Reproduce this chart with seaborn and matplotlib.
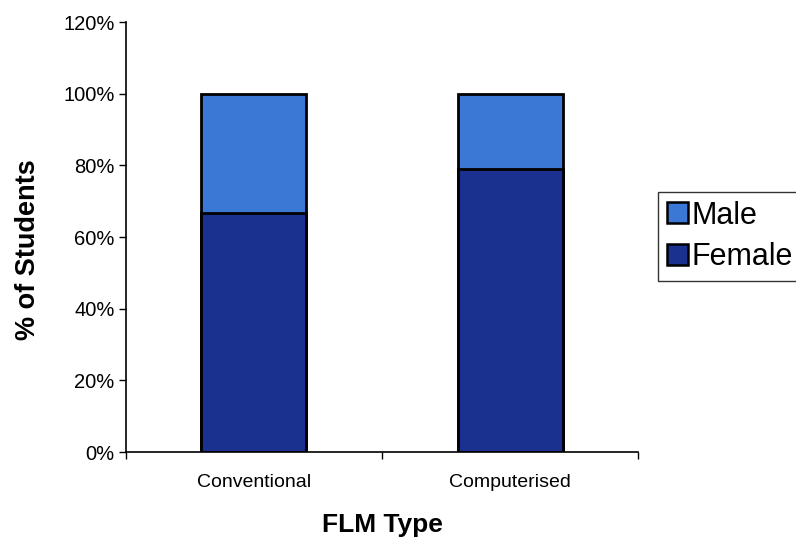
import matplotlib
matplotlib.use("Agg")
import matplotlib.pyplot as plt
import seaborn as sns
import pandas as pd
from matplotlib.ticker import PercentFormatter, FixedLocator

# Share of students by gender for each FLM type (percent)
flm_types = ["Conventional", "Computerised"]
female_pct = [66.7, 79.0]
male_pct = [33.3, 21.0]

female_color = "#1b3190"
male_color = "#3b78d6"

sns.set_theme(style="white")
plt.rcParams["font.family"] = ["Liberation Sans", "DejaVu Sans"]
plt.rcParams["text.color"] = "black"
plt.rcParams["axes.labelcolor"] = "black"
plt.rcParams["xtick.color"] = "black"
plt.rcParams["ytick.color"] = "black"

df = pd.DataFrame({
    "type": flm_types,
    "female": female_pct,
    "total": [f + m for f, m in zip(female_pct, male_pct)],
})

fig = plt.figure(figsize=(7.96, 5.45), dpi=100)
ax = fig.add_axes([0.158, 0.1706, 0.644, 0.789])

# Stacked bars: full height in the male colour, female share drawn over it
sns.barplot(data=df, x="type", y="total", color=male_color, width=0.41,
            edgecolor="black", linewidth=2, saturation=1, ax=ax)
sns.barplot(data=df, x="type", y="female", color=female_color, width=0.41,
            edgecolor="black", linewidth=2, saturation=1, ax=ax)

ax.set_ylim(0, 120)
ax.set_xlim(-0.5, 1.5)
ax.set_yticks(range(0, 121, 20))
ax.yaxis.set_major_formatter(PercentFormatter(decimals=0))
ax.xaxis.set_minor_locator(FixedLocator([-0.5, 0.5, 1.5]))
ax.tick_params(axis="y", which="major", direction="out", length=5, width=1,
               labelsize=14.5, left=True, pad=3)
ax.tick_params(axis="x", which="major", length=0, labelsize=14, pad=16)
ax.tick_params(axis="x", which="minor", direction="out", length=5, width=1,
               bottom=True)

for side in ("top", "right"):
    ax.spines[side].set_visible(False)
for side in ("left", "bottom"):
    ax.spines[side].set_color("black")
    ax.spines[side].set_linewidth(1.2)

ax.set_xlabel("FLM Type", fontsize=19, fontweight="bold", labelpad=16)
ax.set_ylabel("% of Students", fontsize=19.5, fontweight="bold")
ax.yaxis.set_label_coords(-0.166, 0.47)

handles = [
    plt.Rectangle((0, 0), 1, 1, facecolor=male_color, edgecolor="black", linewidth=1.8),
    plt.Rectangle((0, 0), 1, 1, facecolor=female_color, edgecolor="black", linewidth=1.8),
]
leg = fig.legend(handles, ["Male", "Female"], loc="upper left",
                 bbox_to_anchor=(0.8266, 0.6477), fontsize=22, frameon=True,
                 fancybox=False, edgecolor="black", handlelength=0.69,
                 handleheight=0.69, handletextpad=0.12, borderpad=0.28,
                 labelspacing=0.38, borderaxespad=0)
leg.get_frame().set_linewidth(1.0)

fig.savefig("out.png", dpi=100, facecolor="white")
